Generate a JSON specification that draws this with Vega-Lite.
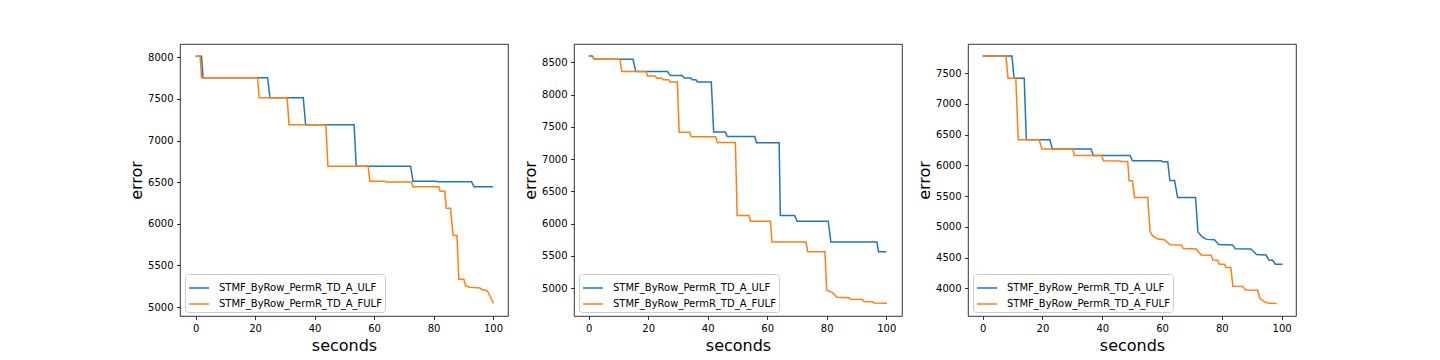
{
  "$schema": "https://vega.github.io/schema/vega-lite/v6.json",
  "autosize": {"type": "pad"},
  "padding": {"left": 128, "top": 43, "right": 5, "bottom": 5},
  "background": "white",
  "spacing": 66,
  "bounds": "flush",
  "datasets": {
    "p1": [
      {"series": "STMF_ByRow_PermR_TD_A_ULF", "seconds": 0, "error": 8015},
      {"series": "STMF_ByRow_PermR_TD_A_ULF", "seconds": 2.0, "error": 8015},
      {"series": "STMF_ByRow_PermR_TD_A_ULF", "seconds": 2.5, "error": 7755},
      {"series": "STMF_ByRow_PermR_TD_A_ULF", "seconds": 24.2, "error": 7755},
      {"series": "STMF_ByRow_PermR_TD_A_ULF", "seconds": 25.0, "error": 7515},
      {"series": "STMF_ByRow_PermR_TD_A_ULF", "seconds": 36.2, "error": 7515},
      {"series": "STMF_ByRow_PermR_TD_A_ULF", "seconds": 37.0, "error": 7190},
      {"series": "STMF_ByRow_PermR_TD_A_ULF", "seconds": 53.3, "error": 7190},
      {"series": "STMF_ByRow_PermR_TD_A_ULF", "seconds": 54.0, "error": 6692},
      {"series": "STMF_ByRow_PermR_TD_A_ULF", "seconds": 72.3, "error": 6692},
      {"series": "STMF_ByRow_PermR_TD_A_ULF", "seconds": 73.1, "error": 6512},
      {"series": "STMF_ByRow_PermR_TD_A_ULF", "seconds": 81.0, "error": 6512},
      {"series": "STMF_ByRow_PermR_TD_A_ULF", "seconds": 81.5, "error": 6505},
      {"series": "STMF_ByRow_PermR_TD_A_ULF", "seconds": 92.8, "error": 6505},
      {"series": "STMF_ByRow_PermR_TD_A_ULF", "seconds": 93.6, "error": 6444},
      {"series": "STMF_ByRow_PermR_TD_A_ULF", "seconds": 100, "error": 6444},
      {"series": "STMF_ByRow_PermR_TD_A_FULF", "seconds": 0, "error": 8015},
      {"series": "STMF_ByRow_PermR_TD_A_FULF", "seconds": 1.5, "error": 8015},
      {"series": "STMF_ByRow_PermR_TD_A_FULF", "seconds": 2.0, "error": 7755},
      {"series": "STMF_ByRow_PermR_TD_A_FULF", "seconds": 20.8, "error": 7755},
      {"series": "STMF_ByRow_PermR_TD_A_FULF", "seconds": 21.4, "error": 7515},
      {"series": "STMF_ByRow_PermR_TD_A_FULF", "seconds": 30.8, "error": 7515},
      {"series": "STMF_ByRow_PermR_TD_A_FULF", "seconds": 31.4, "error": 7190},
      {"series": "STMF_ByRow_PermR_TD_A_FULF", "seconds": 43.8, "error": 7190},
      {"series": "STMF_ByRow_PermR_TD_A_FULF", "seconds": 44.5, "error": 6692},
      {"series": "STMF_ByRow_PermR_TD_A_FULF", "seconds": 58.0, "error": 6692},
      {"series": "STMF_ByRow_PermR_TD_A_FULF", "seconds": 58.6, "error": 6512},
      {"series": "STMF_ByRow_PermR_TD_A_FULF", "seconds": 63.6, "error": 6512},
      {"series": "STMF_ByRow_PermR_TD_A_FULF", "seconds": 64.0, "error": 6503},
      {"series": "STMF_ByRow_PermR_TD_A_FULF", "seconds": 72.6, "error": 6503},
      {"series": "STMF_ByRow_PermR_TD_A_FULF", "seconds": 73.1, "error": 6444},
      {"series": "STMF_ByRow_PermR_TD_A_FULF", "seconds": 81.8, "error": 6444},
      {"series": "STMF_ByRow_PermR_TD_A_FULF", "seconds": 82.2, "error": 6390},
      {"series": "STMF_ByRow_PermR_TD_A_FULF", "seconds": 83.8, "error": 6390},
      {"series": "STMF_ByRow_PermR_TD_A_FULF", "seconds": 84.3, "error": 6188},
      {"series": "STMF_ByRow_PermR_TD_A_FULF", "seconds": 85.7, "error": 6188},
      {"series": "STMF_ByRow_PermR_TD_A_FULF", "seconds": 86.6, "error": 5858},
      {"series": "STMF_ByRow_PermR_TD_A_FULF", "seconds": 87.9, "error": 5858},
      {"series": "STMF_ByRow_PermR_TD_A_FULF", "seconds": 88.5, "error": 5335},
      {"series": "STMF_ByRow_PermR_TD_A_FULF", "seconds": 90.2, "error": 5335},
      {"series": "STMF_ByRow_PermR_TD_A_FULF", "seconds": 90.8, "error": 5253},
      {"series": "STMF_ByRow_PermR_TD_A_FULF", "seconds": 92.2, "error": 5237},
      {"series": "STMF_ByRow_PermR_TD_A_FULF", "seconds": 95.6, "error": 5229},
      {"series": "STMF_ByRow_PermR_TD_A_FULF", "seconds": 96.4, "error": 5208},
      {"series": "STMF_ByRow_PermR_TD_A_FULF", "seconds": 98.1, "error": 5195},
      {"series": "STMF_ByRow_PermR_TD_A_FULF", "seconds": 100.2, "error": 5045}
    ],
    "p2": [
      {"series": "STMF_ByRow_PermR_TD_A_ULF", "seconds": 0, "error": 8600},
      {"series": "STMF_ByRow_PermR_TD_A_ULF", "seconds": 1.2, "error": 8600},
      {"series": "STMF_ByRow_PermR_TD_A_ULF", "seconds": 1.9, "error": 8547},
      {"series": "STMF_ByRow_PermR_TD_A_ULF", "seconds": 14.9, "error": 8547},
      {"series": "STMF_ByRow_PermR_TD_A_ULF", "seconds": 15.8, "error": 8358},
      {"series": "STMF_ByRow_PermR_TD_A_ULF", "seconds": 26.5, "error": 8358},
      {"series": "STMF_ByRow_PermR_TD_A_ULF", "seconds": 27.4, "error": 8296},
      {"series": "STMF_ByRow_PermR_TD_A_ULF", "seconds": 31.4, "error": 8296},
      {"series": "STMF_ByRow_PermR_TD_A_ULF", "seconds": 32.1, "error": 8258},
      {"series": "STMF_ByRow_PermR_TD_A_ULF", "seconds": 34.3, "error": 8258},
      {"series": "STMF_ByRow_PermR_TD_A_ULF", "seconds": 34.8, "error": 8232},
      {"series": "STMF_ByRow_PermR_TD_A_ULF", "seconds": 36.0, "error": 8232},
      {"series": "STMF_ByRow_PermR_TD_A_ULF", "seconds": 36.6, "error": 8196},
      {"series": "STMF_ByRow_PermR_TD_A_ULF", "seconds": 41.2, "error": 8196},
      {"series": "STMF_ByRow_PermR_TD_A_ULF", "seconds": 42.0, "error": 7420},
      {"series": "STMF_ByRow_PermR_TD_A_ULF", "seconds": 45.9, "error": 7420},
      {"series": "STMF_ByRow_PermR_TD_A_ULF", "seconds": 46.6, "error": 7352},
      {"series": "STMF_ByRow_PermR_TD_A_ULF", "seconds": 55.8, "error": 7352},
      {"series": "STMF_ByRow_PermR_TD_A_ULF", "seconds": 56.4, "error": 7255},
      {"series": "STMF_ByRow_PermR_TD_A_ULF", "seconds": 64.0, "error": 7255},
      {"series": "STMF_ByRow_PermR_TD_A_ULF", "seconds": 64.4, "error": 6127},
      {"series": "STMF_ByRow_PermR_TD_A_ULF", "seconds": 69.2, "error": 6127},
      {"series": "STMF_ByRow_PermR_TD_A_ULF", "seconds": 70.0, "error": 6040},
      {"series": "STMF_ByRow_PermR_TD_A_ULF", "seconds": 80.5, "error": 6040},
      {"series": "STMF_ByRow_PermR_TD_A_ULF", "seconds": 81.4, "error": 5715},
      {"series": "STMF_ByRow_PermR_TD_A_ULF", "seconds": 96.9, "error": 5715},
      {"series": "STMF_ByRow_PermR_TD_A_ULF", "seconds": 97.4, "error": 5564},
      {"series": "STMF_ByRow_PermR_TD_A_ULF", "seconds": 100, "error": 5564},
      {"series": "STMF_ByRow_PermR_TD_A_FULF", "seconds": 0, "error": 8600},
      {"series": "STMF_ByRow_PermR_TD_A_FULF", "seconds": 1.2, "error": 8600},
      {"series": "STMF_ByRow_PermR_TD_A_FULF", "seconds": 1.9, "error": 8547},
      {"series": "STMF_ByRow_PermR_TD_A_FULF", "seconds": 10.5, "error": 8547},
      {"series": "STMF_ByRow_PermR_TD_A_FULF", "seconds": 11.1, "error": 8358},
      {"series": "STMF_ByRow_PermR_TD_A_FULF", "seconds": 19.3, "error": 8358},
      {"series": "STMF_ByRow_PermR_TD_A_FULF", "seconds": 19.8, "error": 8290},
      {"series": "STMF_ByRow_PermR_TD_A_FULF", "seconds": 22.4, "error": 8290},
      {"series": "STMF_ByRow_PermR_TD_A_FULF", "seconds": 22.8, "error": 8254},
      {"series": "STMF_ByRow_PermR_TD_A_FULF", "seconds": 24.6, "error": 8254},
      {"series": "STMF_ByRow_PermR_TD_A_FULF", "seconds": 25.0, "error": 8232},
      {"series": "STMF_ByRow_PermR_TD_A_FULF", "seconds": 26.9, "error": 8232},
      {"series": "STMF_ByRow_PermR_TD_A_FULF", "seconds": 27.3, "error": 8196},
      {"series": "STMF_ByRow_PermR_TD_A_FULF", "seconds": 29.8, "error": 8196},
      {"series": "STMF_ByRow_PermR_TD_A_FULF", "seconds": 30.4, "error": 7416},
      {"series": "STMF_ByRow_PermR_TD_A_FULF", "seconds": 33.9, "error": 7416},
      {"series": "STMF_ByRow_PermR_TD_A_FULF", "seconds": 34.5, "error": 7347},
      {"series": "STMF_ByRow_PermR_TD_A_FULF", "seconds": 42.7, "error": 7347},
      {"series": "STMF_ByRow_PermR_TD_A_FULF", "seconds": 43.2, "error": 7257},
      {"series": "STMF_ByRow_PermR_TD_A_FULF", "seconds": 49.3, "error": 7257},
      {"series": "STMF_ByRow_PermR_TD_A_FULF", "seconds": 49.9, "error": 6127},
      {"series": "STMF_ByRow_PermR_TD_A_FULF", "seconds": 53.9, "error": 6127},
      {"series": "STMF_ByRow_PermR_TD_A_FULF", "seconds": 54.4, "error": 6040},
      {"series": "STMF_ByRow_PermR_TD_A_FULF", "seconds": 61.1, "error": 6040},
      {"series": "STMF_ByRow_PermR_TD_A_FULF", "seconds": 61.6, "error": 5716},
      {"series": "STMF_ByRow_PermR_TD_A_FULF", "seconds": 73.0, "error": 5716},
      {"series": "STMF_ByRow_PermR_TD_A_FULF", "seconds": 73.6, "error": 5564},
      {"series": "STMF_ByRow_PermR_TD_A_FULF", "seconds": 79.4, "error": 5564},
      {"series": "STMF_ByRow_PermR_TD_A_FULF", "seconds": 80.0, "error": 4968},
      {"series": "STMF_ByRow_PermR_TD_A_FULF", "seconds": 81.0, "error": 4950},
      {"series": "STMF_ByRow_PermR_TD_A_FULF", "seconds": 82.0, "error": 4933},
      {"series": "STMF_ByRow_PermR_TD_A_FULF", "seconds": 83.4, "error": 4860},
      {"series": "STMF_ByRow_PermR_TD_A_FULF", "seconds": 87.5, "error": 4852},
      {"series": "STMF_ByRow_PermR_TD_A_FULF", "seconds": 88.0, "error": 4830},
      {"series": "STMF_ByRow_PermR_TD_A_FULF", "seconds": 92.0, "error": 4825},
      {"series": "STMF_ByRow_PermR_TD_A_FULF", "seconds": 92.5, "error": 4793},
      {"series": "STMF_ByRow_PermR_TD_A_FULF", "seconds": 95.3, "error": 4790},
      {"series": "STMF_ByRow_PermR_TD_A_FULF", "seconds": 96.1, "error": 4772},
      {"series": "STMF_ByRow_PermR_TD_A_FULF", "seconds": 100.2, "error": 4768}
    ],
    "p3": [
      {"series": "STMF_ByRow_PermR_TD_A_ULF", "seconds": 0, "error": 7775},
      {"series": "STMF_ByRow_PermR_TD_A_ULF", "seconds": 9.8, "error": 7775},
      {"series": "STMF_ByRow_PermR_TD_A_ULF", "seconds": 10.5, "error": 7415},
      {"series": "STMF_ByRow_PermR_TD_A_ULF", "seconds": 13.9, "error": 7415},
      {"series": "STMF_ByRow_PermR_TD_A_ULF", "seconds": 14.6, "error": 6414},
      {"series": "STMF_ByRow_PermR_TD_A_ULF", "seconds": 22.5, "error": 6414},
      {"series": "STMF_ByRow_PermR_TD_A_ULF", "seconds": 23.3, "error": 6263},
      {"series": "STMF_ByRow_PermR_TD_A_ULF", "seconds": 36.3, "error": 6263},
      {"series": "STMF_ByRow_PermR_TD_A_ULF", "seconds": 37.0, "error": 6160},
      {"series": "STMF_ByRow_PermR_TD_A_ULF", "seconds": 49.3, "error": 6160},
      {"series": "STMF_ByRow_PermR_TD_A_ULF", "seconds": 50.1, "error": 6072},
      {"series": "STMF_ByRow_PermR_TD_A_ULF", "seconds": 59.7, "error": 6072},
      {"series": "STMF_ByRow_PermR_TD_A_ULF", "seconds": 60.2, "error": 6057},
      {"series": "STMF_ByRow_PermR_TD_A_ULF", "seconds": 61.9, "error": 6057},
      {"series": "STMF_ByRow_PermR_TD_A_ULF", "seconds": 62.6, "error": 5752},
      {"series": "STMF_ByRow_PermR_TD_A_ULF", "seconds": 64.2, "error": 5752},
      {"series": "STMF_ByRow_PermR_TD_A_ULF", "seconds": 65.2, "error": 5475},
      {"series": "STMF_ByRow_PermR_TD_A_ULF", "seconds": 71.2, "error": 5475},
      {"series": "STMF_ByRow_PermR_TD_A_ULF", "seconds": 72.0, "error": 4914},
      {"series": "STMF_ByRow_PermR_TD_A_ULF", "seconds": 73.5, "error": 4830},
      {"series": "STMF_ByRow_PermR_TD_A_ULF", "seconds": 75.0, "error": 4795},
      {"series": "STMF_ByRow_PermR_TD_A_ULF", "seconds": 77.5, "error": 4790},
      {"series": "STMF_ByRow_PermR_TD_A_ULF", "seconds": 79.0, "error": 4710},
      {"series": "STMF_ByRow_PermR_TD_A_ULF", "seconds": 83.6, "error": 4705},
      {"series": "STMF_ByRow_PermR_TD_A_ULF", "seconds": 84.5, "error": 4643},
      {"series": "STMF_ByRow_PermR_TD_A_ULF", "seconds": 89.7, "error": 4638},
      {"series": "STMF_ByRow_PermR_TD_A_ULF", "seconds": 91.6, "error": 4548},
      {"series": "STMF_ByRow_PermR_TD_A_ULF", "seconds": 94.8, "error": 4540},
      {"series": "STMF_ByRow_PermR_TD_A_ULF", "seconds": 95.7, "error": 4460},
      {"series": "STMF_ByRow_PermR_TD_A_ULF", "seconds": 97.0, "error": 4455},
      {"series": "STMF_ByRow_PermR_TD_A_ULF", "seconds": 97.9, "error": 4391},
      {"series": "STMF_ByRow_PermR_TD_A_ULF", "seconds": 100.3, "error": 4391},
      {"series": "STMF_ByRow_PermR_TD_A_FULF", "seconds": 0, "error": 7775},
      {"series": "STMF_ByRow_PermR_TD_A_FULF", "seconds": 7.8, "error": 7775},
      {"series": "STMF_ByRow_PermR_TD_A_FULF", "seconds": 8.5, "error": 7415},
      {"series": "STMF_ByRow_PermR_TD_A_FULF", "seconds": 11.1, "error": 7415},
      {"series": "STMF_ByRow_PermR_TD_A_FULF", "seconds": 11.9, "error": 6414},
      {"series": "STMF_ByRow_PermR_TD_A_FULF", "seconds": 18.9, "error": 6414},
      {"series": "STMF_ByRow_PermR_TD_A_FULF", "seconds": 19.8, "error": 6263},
      {"series": "STMF_ByRow_PermR_TD_A_FULF", "seconds": 30.1, "error": 6263},
      {"series": "STMF_ByRow_PermR_TD_A_FULF", "seconds": 30.7, "error": 6160},
      {"series": "STMF_ByRow_PermR_TD_A_FULF", "seconds": 39.8, "error": 6160},
      {"series": "STMF_ByRow_PermR_TD_A_FULF", "seconds": 40.4, "error": 6072},
      {"series": "STMF_ByRow_PermR_TD_A_FULF", "seconds": 46.0, "error": 6070},
      {"series": "STMF_ByRow_PermR_TD_A_FULF", "seconds": 46.5, "error": 6062},
      {"series": "STMF_ByRow_PermR_TD_A_FULF", "seconds": 48.5, "error": 6062},
      {"series": "STMF_ByRow_PermR_TD_A_FULF", "seconds": 49.0, "error": 5747},
      {"series": "STMF_ByRow_PermR_TD_A_FULF", "seconds": 50.1, "error": 5747},
      {"series": "STMF_ByRow_PermR_TD_A_FULF", "seconds": 50.8, "error": 5475},
      {"series": "STMF_ByRow_PermR_TD_A_FULF", "seconds": 55.2, "error": 5475},
      {"series": "STMF_ByRow_PermR_TD_A_FULF", "seconds": 56.0, "error": 4918},
      {"series": "STMF_ByRow_PermR_TD_A_FULF", "seconds": 56.9, "error": 4851},
      {"series": "STMF_ByRow_PermR_TD_A_FULF", "seconds": 58.6, "error": 4800},
      {"series": "STMF_ByRow_PermR_TD_A_FULF", "seconds": 60.8, "error": 4790},
      {"series": "STMF_ByRow_PermR_TD_A_FULF", "seconds": 62.7, "error": 4708},
      {"series": "STMF_ByRow_PermR_TD_A_FULF", "seconds": 66.4, "error": 4705},
      {"series": "STMF_ByRow_PermR_TD_A_FULF", "seconds": 67.2, "error": 4645},
      {"series": "STMF_ByRow_PermR_TD_A_FULF", "seconds": 71.4, "error": 4640},
      {"series": "STMF_ByRow_PermR_TD_A_FULF", "seconds": 73.1, "error": 4540},
      {"series": "STMF_ByRow_PermR_TD_A_FULF", "seconds": 76.4, "error": 4537},
      {"series": "STMF_ByRow_PermR_TD_A_FULF", "seconds": 77.0, "error": 4458},
      {"series": "STMF_ByRow_PermR_TD_A_FULF", "seconds": 78.6, "error": 4456},
      {"series": "STMF_ByRow_PermR_TD_A_FULF", "seconds": 79.2, "error": 4391},
      {"series": "STMF_ByRow_PermR_TD_A_FULF", "seconds": 80.9, "error": 4391},
      {"series": "STMF_ByRow_PermR_TD_A_FULF", "seconds": 81.4, "error": 4336},
      {"series": "STMF_ByRow_PermR_TD_A_FULF", "seconds": 83.0, "error": 4336},
      {"series": "STMF_ByRow_PermR_TD_A_FULF", "seconds": 83.7, "error": 4033},
      {"series": "STMF_ByRow_PermR_TD_A_FULF", "seconds": 87.0, "error": 4030},
      {"series": "STMF_ByRow_PermR_TD_A_FULF", "seconds": 87.9, "error": 3972},
      {"series": "STMF_ByRow_PermR_TD_A_FULF", "seconds": 92.0, "error": 3968},
      {"series": "STMF_ByRow_PermR_TD_A_FULF", "seconds": 92.6, "error": 3847},
      {"series": "STMF_ByRow_PermR_TD_A_FULF", "seconds": 93.1, "error": 3820},
      {"series": "STMF_ByRow_PermR_TD_A_FULF", "seconds": 94.8, "error": 3766},
      {"series": "STMF_ByRow_PermR_TD_A_FULF", "seconds": 95.9, "error": 3755},
      {"series": "STMF_ByRow_PermR_TD_A_FULF", "seconds": 98.4, "error": 3753}
    ]
  },
  "hconcat": [
    {
      "width": 328, "height": 272,
      "data": {"name": "p1"},
      "mark": {"type": "line", "strokeWidth": 1.5, "clip": true},
      "encoding": {
        "x": {"field": "seconds", "type": "quantitative", "title": "seconds",
              "scale": {"domain": [-5.25, 105.05], "nice": false, "zero": false},
              "axis": {"values": [0, 20, 40, 60, 80, 100]}},
        "y": {"field": "error", "type": "quantitative", "title": "error",
              "scale": {"domain": [4892, 8161], "nice": false, "zero": false},
              "axis": {"values": [5000, 5500, 6000, 6500, 7000, 7500, 8000], "format": "d"}},
        "color": {"field": "series", "type": "nominal",
                  "scale": {"domain": ["STMF_ByRow_PermR_TD_A_ULF", "STMF_ByRow_PermR_TD_A_FULF"], "range": ["#1f77b4", "#ff7f0e"]},
                  "legend": {"orient": "none", "legendX": 5, "legendY": 230}}
      }
    },
    {
      "width": 328, "height": 272,
      "data": {"name": "p2"},
      "mark": {"type": "line", "strokeWidth": 1.5, "clip": true},
      "encoding": {
        "x": {"field": "seconds", "type": "quantitative", "title": "seconds",
              "scale": {"domain": [-4.95, 105.3], "nice": false, "zero": false},
              "axis": {"values": [0, 20, 40, 60, 80, 100]}},
        "y": {"field": "error", "type": "quantitative", "title": "error",
              "scale": {"domain": [4570, 8785], "nice": false, "zero": false},
              "axis": {"values": [5000, 5500, 6000, 6500, 7000, 7500, 8000, 8500], "format": "d"}},
        "color": {"field": "series", "type": "nominal",
                  "scale": {"domain": ["STMF_ByRow_PermR_TD_A_ULF", "STMF_ByRow_PermR_TD_A_FULF"], "range": ["#1f77b4", "#ff7f0e"]},
                  "legend": {"orient": "none", "legendX": 5, "legendY": 230}}
      }
    },
    {
      "width": 328, "height": 272,
      "data": {"name": "p3"},
      "mark": {"type": "line", "strokeWidth": 1.5, "clip": true},
      "encoding": {
        "x": {"field": "seconds", "type": "quantitative", "title": "seconds",
              "scale": {"domain": [-4.9, 104.8], "nice": false, "zero": false},
              "axis": {"values": [0, 20, 40, 60, 80, 100]}},
        "y": {"field": "error", "type": "quantitative", "title": "error",
              "scale": {"domain": [3549, 7972], "nice": false, "zero": false},
              "axis": {"values": [4000, 4500, 5000, 5500, 6000, 6500, 7000, 7500], "format": "d"}},
        "color": {"field": "series", "type": "nominal",
                  "scale": {"domain": ["STMF_ByRow_PermR_TD_A_ULF", "STMF_ByRow_PermR_TD_A_FULF"], "range": ["#1f77b4", "#ff7f0e"]},
                  "legend": {"orient": "none", "legendX": 5, "legendY": 230}}
      }
    }
  ],
  "resolve": {"scale": {"color": "independent"}, "legend": {"color": "independent"}},
  "config": {
    "view": {"stroke": "#000000", "strokeWidth": 0.8},
    "axis": {
      "grid": false, "domain": false,
      "tickColor": "#000000", "tickSize": 3.5, "tickWidth": 0.8,
      "labelFont": "DejaVu Sans", "labelFontSize": 10, "labelColor": "#000000", "labelPadding": 3.5,
      "labelFlush": false, "labelOverlap": false,
      "titleFont": "DejaVu Sans", "titleFontSize": 16, "titleFontWeight": "normal", "titleColor": "#000000"
    },
    "axisX": {"titlePadding": 4},
    "axisY": {"titlePadding": 3},
    "legend": {
      "title": null,
      "symbolType": "stroke", "symbolSize": 400, "symbolStrokeWidth": 1.5,
      "labelFont": "DejaVu Sans", "labelFontSize": 10, "labelColor": "#000000", "labelOffset": 9, "labelLimit": 400,
      "padding": 3, "rowPadding": -5,
      "strokeColor": "#cccccc", "fillColor": "rgba(255,255,255,0.8)", "cornerRadius": 3
    }
  }
}
